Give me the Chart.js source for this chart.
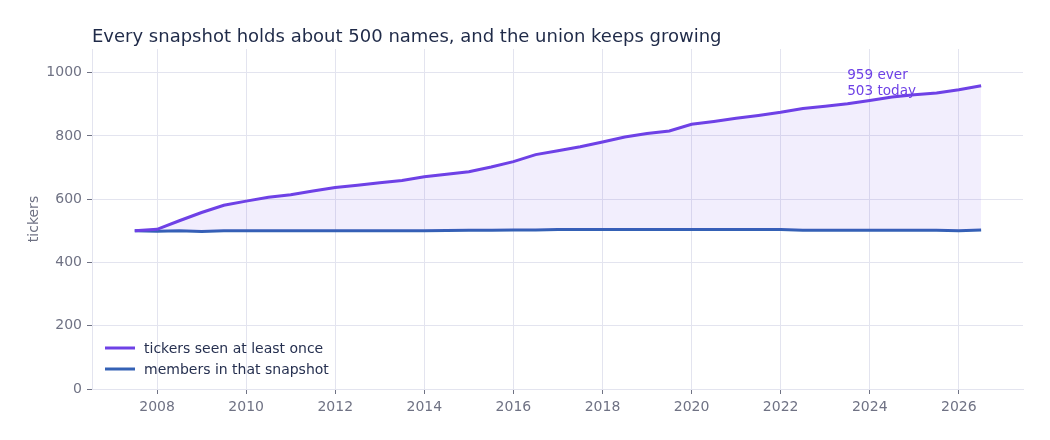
<!DOCTYPE html>
<html>
<head>
<meta charset="utf-8">
<script src="https://cdn.jsdelivr.net/npm/chart.js@4.4.1/dist/chart.umd.min.js"></script>
<style>
html,body{margin:0;padding:0;background:#fff;}
#wrap{position:relative;width:1050px;height:440px;}
</style>
</head>
<body>
<div id="wrap"><canvas id="c" width="1050" height="440"></canvas></div>
<script>
const years = [2007.5,2008,2008.5,2009,2009.5,2010,2010.5,2011,2011.5,2012,2012.5,2013,2013.5,2014,2014.5,2015,2015.5,2016,2016.5,2017,2017.5,2018,2018.5,2019,2019.5,2020,2020.5,2021,2021.5,2022,2022.5,2023,2023.5,2024,2024.5,2025,2025.5,2026,2026.5];
const everSeen = [500,505,532,558,581,594,606,614,626,637,644,652,659,671,679,687,702,719,741,753,766,781,797,808,816,837,846,856,865,875,887,894,902,912,923,930,936,946,959];
const members = [500,499,500,498,500,500,500,500,500,500,500,500,500,500,501,502,502,503,503,504,504,504,504,504,504,504,504,504,504,504,502,502,502,502,502,502,502,500,503];
const seriesLabels = ['tickers seen at least once','members in that snapshot'];
const xTicks = [2008,2010,2012,2014,2016,2018,2020,2022,2024,2026];
const yTicks = [0,200,400,600,800,1000];
const titleText = 'Every snapshot holds about 500 names, and the union keeps growing';
const yTitle = 'tickers';
const annotationLines = [everSeen[everSeen.length-1] + ' ever', members[members.length-1] + ' today'];

const FONT = "'DejaVu Sans', sans-serif";
const PURPLE = '#6e41e6';
const BLUE = '#3461b5';
const GRID = '#e3e4ef';
const TICKC = '#6f7284';

const overlay = {
  id: 'overlay',
  afterDraw(chart) {
    const ctx = chart.ctx;
    const xs = chart.scales.x, ys = chart.scales.y, ca = chart.chartArea;
    ctx.save();
    // title
    ctx.font = '18px ' + FONT;
    ctx.fillStyle = '#1f2a48';
    ctx.textAlign = 'left';
    ctx.textBaseline = 'middle';
    ctx.fillText(titleText, ca.left, 37);
    // y title
    ctx.save();
    ctx.translate(34, (ca.top + ca.bottom) / 2);
    ctx.rotate(-Math.PI / 2);
    ctx.font = '14px ' + FONT;
    ctx.fillStyle = TICKC;
    ctx.textAlign = 'center';
    ctx.fillText(yTitle, 0, 0);
    ctx.restore();
    // annotation
    const lastX = xs.getPixelForValue(years[years.length-1]);
    ctx.font = '13.6px ' + FONT;
    ctx.fillStyle = PURPLE;
    ctx.textAlign = 'left';
    ctx.fillText(annotationLines[0], lastX - 134, 75);
    ctx.fillText(annotationLines[1], lastX - 134, 91);
    // legend
    chart.data.datasets.forEach((ds, i) => {
      const y = 348 + i * 21;
      ctx.strokeStyle = ds.borderColor;
      ctx.lineWidth = 3;
      ctx.beginPath();
      ctx.moveTo(ca.left + 13, y);
      ctx.lineTo(ca.left + 43, y);
      ctx.stroke();
      ctx.font = '14px ' + FONT;
      ctx.fillStyle = '#263050';
      ctx.textAlign = 'left';
      ctx.fillText(ds.label, ca.left + 52, y + 1);
    });
    ctx.restore();
  }
};

new Chart(document.getElementById('c'), {
  type: 'line',
  data: {
    datasets: [
      {
        label: seriesLabels[0],
        data: years.map((x, i) => ({x, y: everSeen[i]})),
        borderColor: PURPLE,
        backgroundColor: 'rgba(110,65,230,0.09)',
        borderWidth: 3,
        pointRadius: 0,
        fill: 1,
        tension: 0
      },
      {
        label: seriesLabels[1],
        data: years.map((x, i) => ({x, y: members[i]})),
        borderColor: BLUE,
        borderWidth: 3,
        pointRadius: 0,
        fill: false,
        tension: 0
      }
    ]
  },
  options: {
    responsive: false,
    animation: false,
    layout: {padding: {left: 0, right: 27, top: 49, bottom: 11}},
    plugins: {legend: {display: false}, title: {display: false}, tooltip: {enabled: false}},
    scales: {
      x: {
        type: 'linear',
        min: 2006.54,
        max: 2027.44,
        afterBuildTicks(axis) { axis.ticks = xTicks.map(v => ({value: v})); },
        afterFit(axis) { axis.height = 40; },
        border: {color: GRID, width: 1},
        grid: {color: GRID, lineWidth: 1, tickLength: 5, tickColor: TICKC, drawTicks: true},
        ticks: {font: {family: FONT, size: 14}, color: TICKC, padding: 5, maxRotation: 0, callback: v => String(v)}
      },
      y: {
        min: 0,
        max: 1075,
        afterBuildTicks(axis) { axis.ticks = yTicks.map(v => ({value: v})); },
        afterFit(axis) { axis.width = 92; },
        border: {color: GRID, width: 1},
        grid: {color: GRID, lineWidth: 1, tickLength: 5, tickColor: TICKC, drawTicks: true},
        ticks: {font: {family: FONT, size: 14}, color: TICKC, padding: 5, callback: v => String(v)}
      }
    }
  },
  plugins: [overlay]
});
</script>
</body>
</html>
